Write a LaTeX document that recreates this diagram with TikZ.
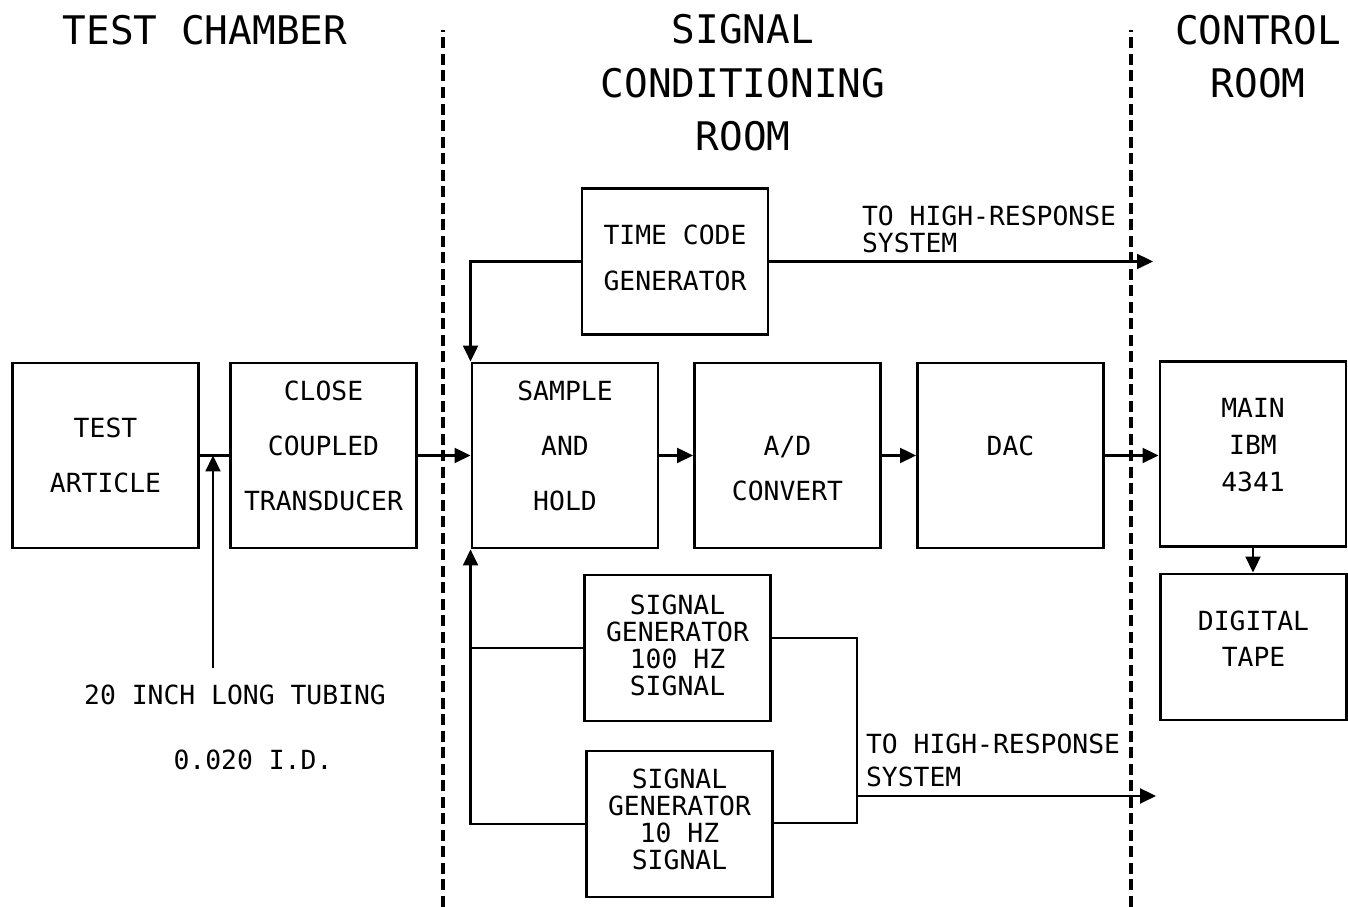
\documentclass[tikz,border=0pt]{standalone}
\usepackage{fontspec}
\setmainfont{DejaVu Sans Mono}
\usetikzlibrary{arrows.meta, calc}
\tikzset{
  every picture/.style={line width=0.6pt},
  box/.style={draw, line width=0.8pt, minimum width=1.86cm, minimum height=1.85cm, inner sep=0pt, align=center, font=\fontsize{7.5}{#1}\selectfont},
  box/.default=15.6,
  sbox/.style={box=#1, minimum height=1.46cm},
  sbox/.default=7.7,
  lift/.style={execute at end node={\rule[-#1]{0pt}{0pt}}},
  arrow/.style={-{Triangle[length=1.6mm, width=1.5mm]}},
  border/.style={line width=0.9pt, dash pattern=on 1.1mm off 0.55mm},
  title/.style={align=center, inner sep=0pt, font=\fontsize{11.2}{15.2}\selectfont},
  note/.style={align=left, inner sep=0pt, font=\fontsize{7.5}{#1}\selectfont},
  note/.default=7.7,
}

\begin{document}
\begin{tikzpicture}[x=0.01cm, y=0.01cm]
  \useasboundingbox (0,0) rectangle (1348,907);
  % room borders
  \draw[border] (443,0) -- (443,877);
  \draw[border] (1131,0) -- (1131,877);
  % headings
  \node[title] (hdtest) at (205,877) {TEST CHAMBER};
  \node[title] (hdsig) at (743,824) {SIGNAL\\CONDITIONING\\ROOM};
  \node[title] (hdctl) at (1258,850.5) {CONTROL\\ROOM};
  % blocks
  \node[box] (art) at (105.5,451.5) {TEST\\ARTICLE};
  \node[box, lift=5.7pt] (trans) at (323.5,451.5) {CLOSE\\COUPLED\\TRANSDUCER};
  \node[box, lift=5.7pt] (sh) at (565,451.5) {SAMPLE\\AND\\HOLD};
  \node[box=12.8] (adc) at (787.5,451.5) {\rule{0pt}{12.9pt}A/D\\CONVERT};
  \node[box, lift=5.7pt] (dac) at (1010.5,451.5) {DAC};
  \node[box=10.5, lift=5.1pt] (ibm) at (1253,453) {MAIN\\IBM\\4341};
  \node[sbox=10.2, lift=4.6pt] (tape) at (1253.5,260) {DIGITAL\\TAPE};
  \node[sbox=13.1, lift=2.3pt] (tcg) at (675,645.5) {TIME CODE\\GENERATOR};
  \node[sbox, lift=1.7pt] (sg100) at (677.5,259) {SIGNAL\\GENERATOR\\100 HZ\\SIGNAL};
  \node[sbox, lift=2.8pt] (sg10) at (679.5,83) {SIGNAL\\GENERATOR\\10 HZ\\SIGNAL};
  % tubing
  \coordinate (tub) at (213,239);
  \node[note] (tubtxt) at (235,212) {20 INCH LONG TUBING};
  \node[note] (idtxt) at (253,147) {0.020 I.D.};
  \draw (art.east) -- (trans.west);
  \draw[arrow] (tub) -- (tub |- art.east);
  % main chain
  \draw[arrow] (trans.east) -- (sh.west);
  \draw[arrow] (sh.east) -- (adc.west);
  \draw[arrow] (adc.east) -- (dac.west);
  \draw[arrow] (dac.east) -- (dac.east -| ibm.west);
  \draw[arrow] (ibm.south) -- (ibm.south |- tape.north);
  % time code
  \coordinate (out1) at (1153,645.5);
  \draw[arrow] (tcg.west) -| (sh.north west);
  \draw[arrow] (tcg.east) -- (out1);
  \node[note, anchor=west] (hr1) at (861,677.5) {TO HIGH-RESPONSE\\SYSTEM};
  % signal generators
  \coordinate (ja) at (857,269);
  \coordinate (jb) at (857,84);
  \coordinate (jc) at (857,111);
  \coordinate (out2) at (1156,111);
  \draw (sg100.west) -- (sg100.west -| sh.south west);
  \draw[arrow] (sg10.west) -| (sh.south west);
  \draw (sg100.east |- ja) -- (ja) -- (jb) -- (sg10.east |- jb);
  \draw[arrow] (jc) -- (out2);
  \node[note=9.4, anchor=west] (hr2) at (865,146.5) {TO HIGH-RESPONSE\\SYSTEM};
\end{tikzpicture}
\end{document}
